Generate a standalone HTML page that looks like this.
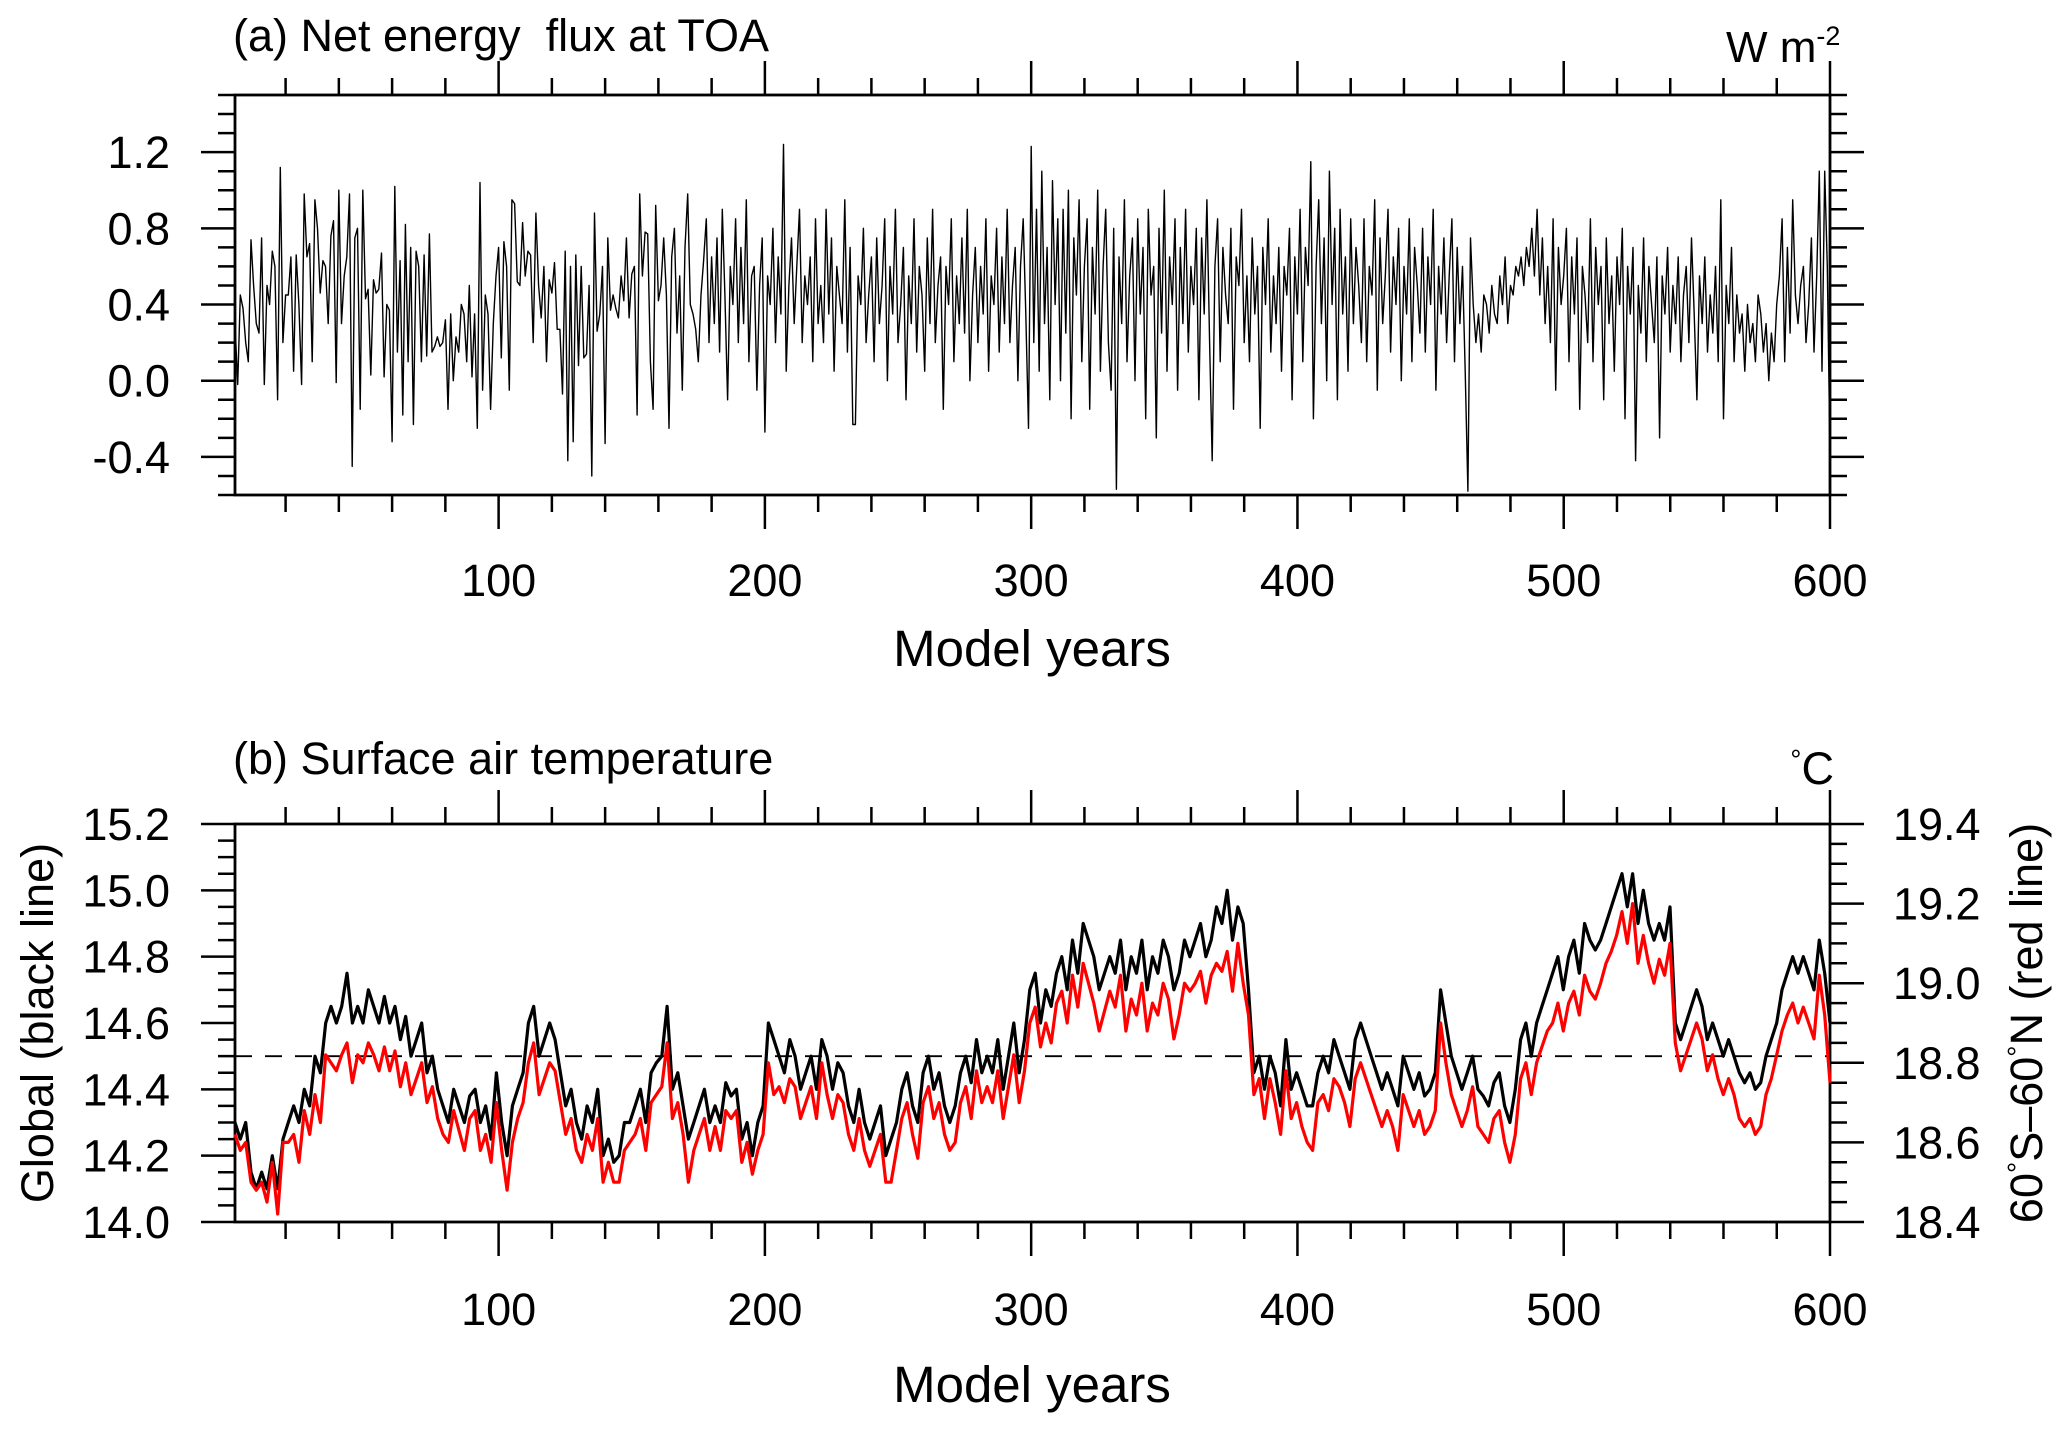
<!DOCTYPE html>
<html><head><meta charset="utf-8">
<style>
html,body{margin:0;padding:0;background:#fff;}
svg{display:block;font-family:"Liberation Sans",Arial,sans-serif;}
</style></head>
<body>
<svg id="chart" width="2067" height="1430" viewBox="0 0 2067 1430" xmlns="http://www.w3.org/2000/svg">
<text x="233" y="51" font-size="45" xml:space="preserve">(a) Net energy  flux at TOA</text>
<text x="1726" y="62" font-size="44">W m<tspan font-size="27" dy="-17">-2</tspan></text>
<text x="1032" y="666" font-size="51" text-anchor="middle">Model years</text>
<text x="233" y="774" font-size="45">(b) Surface air temperature</text>
<text x="1834" y="784" font-size="45" text-anchor="end"><tspan font-size="28" dy="-15">°</tspan><tspan dy="15">C</tspan></text>
<text x="1032" y="1402" font-size="51" text-anchor="middle">Model years</text>
<text transform="translate(53,1023) rotate(-90)" font-size="45" text-anchor="middle">Global (black line)</text>
<text transform="translate(2042,1023) rotate(-90)" font-size="45" text-anchor="middle">60<tspan font-size="28" dy="-15">°</tspan><tspan dy="15">S–60</tspan><tspan font-size="28" dy="-15">°</tspan><tspan dy="15">N (red line)</tspan></text>
<g id="layer"></g>
</svg>
<script>
// ---- Panel (a) data: net TOA flux, annual, years 1..600 ----
const fluxValues = [
.3,-.02,.45,.38,.2,.1,.74,.5,.3,.25,.75,-.02,.5,.4,.68,.6,-.1,1.12,.2,.45,
.45,.65,.05,.66,.4,-.02,.98,.65,.72,.1,.95,.8,.46,.63,.6,.3,.76,.84,-.01,1.0,
.3,.55,.65,.98,-.45,.75,.8,-.15,1.0,.43,.48,.03,.53,.46,.48,.67,.02,.4,.37,-.32,
1.02,.15,.63,-.18,.82,.1,.7,-.23,.68,.6,.1,.66,.13,.77,.15,.18,.23,.18,.2,.32,
-.15,.35,0,.23,.15,.4,.35,.1,.5,.02,.35,-.25,1.04,-.05,.45,.35,-.15,.3,.55,.7,
.12,.73,.6,-.05,.95,.93,.52,.5,.83,.55,.68,.66,.2,.88,.5,.33,.6,.1,.53,.46,
.62,.27,.27,-.07,.68,-.42,.6,-.32,.66,.08,.6,.12,.14,.5,-.5,.88,.26,.35,.6,-.33,
.75,.37,.45,.38,.33,.55,.42,.75,.33,.56,.6,-.18,.98,.55,.78,.77,.1,-.15,.92,.42,
.5,.75,.45,-.25,.65,.8,.25,.55,-.05,.7,.98,.4,.35,.27,.1,.45,.63,.85,.2,.65,
.3,.75,.15,.9,.45,-.1,.6,.4,.85,.2,.7,.3,.95,.1,.55,.6,-.05,.5,.75,-.27,
.55,.4,.8,.2,.65,.35,1.24,.05,.5,.75,.3,.6,.9,.2,.55,.4,.65,.1,.85,.3,
.5,.2,.9,.35,.75,.05,.6,.45,.3,.95,.15,.7,-.23,-.23,.55,.4,.8,.2,.45,.65,
.1,.75,.3,.5,.85,0,.6,.35,.9,.2,.4,.7,-.1,.55,.3,.85,.15,.6,.45,.05,
.75,.3,.9,.2,.5,.65,-.15,.6,.4,.85,.1,.55,.3,.75,.25,.9,0,.45,.7,.2,
.6,.35,.85,.05,.55,.4,.8,.15,.65,.3,.9,.2,.5,.7,0,.6,.85,.35,-.25,1.23,
.2,.9,.05,1.1,.3,.7,-.1,1.05,.4,.85,0,.9,.25,1.0,-.2,.75,.45,.95,.1,.6,
.85,-.15,.7,.35,1.0,.05,.6,.9,.2,-.05,.8,-.57,.65,.3,.95,.1,.55,.75,0,.85,
.35,.7,-.2,.9,.45,.6,-.3,.8,.25,1.0,.05,.65,.4,.85,-.05,.7,.3,.9,.15,.6,
.4,.8,-.1,.75,.35,.95,.2,-.42,.6,.85,.1,.7,.45,.3,.8,-.15,.65,.5,.9,.2,
.55,.1,.75,.35,.6,-.25,.7,.4,.85,.15,.55,.3,.7,.05,.6,.45,.8,-.1,.65,.35,
.9,.1,.7,.5,1.15,-.2,.6,.95,.3,.75,0,1.1,.4,.8,-.1,.9,.35,.65,.05,.85,
.3,.7,.5,.2,.85,.1,.6,.45,.95,-.05,.75,.3,.55,.9,.15,.65,.4,.8,0,.6,
.35,.85,.1,.7,.5,.25,.8,.15,.65,.4,.9,-.05,.6,.35,.75,.2,.55,.85,.1,.7,
.3,.6,.05,-.58,.75,.4,.2,.35,.15,.45,.4,.25,.5,.35,.3,.55,.4,.65,.3,.5,
.45,.6,.55,.65,.5,.7,.6,.8,.55,.9,.45,.75,.3,.6,.2,.85,-.05,.7,.4,.55,
.8,.1,.65,.35,.75,-.15,.6,.45,.2,.85,.1,.7,.4,.6,-.1,.75,.3,.55,.05,.65,
.4,.8,-.2,.6,.35,.7,-.42,.5,.25,.75,.1,.6,.4,.2,.65,-.3,.55,.35,.7,.15,
.5,.3,.65,.1,.45,.6,.2,.75,.35,-.1,.55,.3,.65,.15,.45,.25,.6,.1,.95,-.2,
.5,.3,.7,.1,.45,.25,.35,.05,.4,.2,.3,.1,.45,.35,.15,.3,0,.25,.1,.4,
.55,.85,.1,.7,.25,.95,.45,.3,.5,.6,.2,.4,.75,.15,.55,1.1,.05,1.1,.6,-.4
];
// ---- Panel (b) data: 2-yearly samples, years 1..600 ----
const globalTemp = [
14.3,14.25,14.3,14.15,14.1, 14.15,14.1,14.2,14.1,14.25, 14.3,14.35,14.3,14.4,14.35, 14.5,14.45,14.6,14.65,14.6,
14.65,14.75,14.6,14.65,14.6, 14.7,14.65,14.6,14.68,14.6, 14.65,14.55,14.62,14.5,14.55, 14.6,14.45,14.5,14.4,14.35,
14.3,14.4,14.35,14.3,14.38, 14.4,14.3,14.35,14.25,14.45, 14.3,14.2,14.35,14.4,14.45, 14.6,14.65,14.5,14.55,14.6,
14.55,14.45,14.35,14.4,14.3, 14.25,14.35,14.3,14.4,14.2, 14.25,14.18,14.2,14.3,14.3, 14.35,14.4,14.3,14.45,14.48,
14.5,14.65,14.4,14.45,14.35, 14.25,14.3,14.35,14.4,14.3, 14.35,14.3,14.42,14.38,14.4, 14.25,14.3,14.2,14.3,14.35,
14.6,14.55,14.5,14.45,14.55, 14.5,14.4,14.45,14.5,14.4, 14.55,14.5,14.4,14.48,14.45, 14.35,14.3,14.4,14.3,14.25,
14.3,14.35,14.2,14.25,14.3, 14.4,14.45,14.35,14.3,14.45, 14.5,14.4,14.45,14.35,14.3, 14.35,14.45,14.5,14.42,14.55,
14.45,14.5,14.45,14.55,14.4, 14.5,14.6,14.45,14.55,14.7, 14.75,14.6,14.7,14.65,14.75, 14.8,14.7,14.85,14.75,14.9,
14.85,14.8,14.7,14.75,14.8, 14.75,14.85,14.7,14.8,14.75, 14.85,14.7,14.8,14.75,14.85, 14.8,14.7,14.75,14.85,14.8,
14.85,14.9,14.8,14.85,14.95, 14.9,15.0,14.85,14.95,14.9, 14.7,14.45,14.5,14.4,14.5, 14.45,14.35,14.55,14.4,14.45,
14.4,14.35,14.35,14.45,14.5, 14.45,14.55,14.5,14.45,14.4, 14.55,14.6,14.55,14.5,14.45, 14.4,14.45,14.4,14.35,14.5,
14.45,14.4,14.45,14.38,14.4, 14.45,14.7,14.6,14.5,14.45, 14.4,14.45,14.5,14.4,14.38, 14.35,14.42,14.45,14.35,14.3,
14.4,14.55,14.6,14.5,14.6, 14.65,14.7,14.75,14.8,14.7, 14.8,14.85,14.75,14.9,14.85, 14.82,14.85,14.9,14.95,15.0,
15.05,14.95,15.05,14.9,15.0, 14.9,14.85,14.9,14.85,14.95, 14.6,14.55,14.6,14.65,14.7, 14.65,14.55,14.6,14.55,14.5,
14.55,14.5,14.45,14.42,14.45, 14.4,14.42,14.5,14.55,14.6, 14.7,14.75,14.8,14.75,14.8, 14.75,14.7,14.85,14.75,14.6
];
const tropicsTemp = [
18.62,18.58,18.6,18.5,18.48, 18.5,18.45,18.55,18.42,18.6, 18.6,18.62,18.55,18.68,18.62, 18.72,18.65,18.82,18.8,18.78,
18.82,18.85,18.75,18.82,18.8, 18.85,18.82,18.78,18.84,18.78, 18.83,18.74,18.8,18.72,18.76, 18.8,18.7,18.74,18.66,18.62,
18.6,18.68,18.63,18.58,18.66, 18.68,18.58,18.62,18.55,18.7, 18.58,18.48,18.6,18.66,18.7, 18.8,18.85,18.72,18.76,18.8,
18.78,18.7,18.62,18.66,18.58, 18.55,18.62,18.58,18.66,18.5, 18.55,18.5,18.5,18.58,18.6, 18.62,18.66,18.58,18.7,18.72,
18.74,18.85,18.66,18.7,18.62, 18.5,18.58,18.62,18.66,18.58, 18.64,18.58,18.68,18.66,18.68, 18.55,18.6,18.52,18.58,18.62,
18.8,18.72,18.74,18.7,18.76, 18.74,18.66,18.7,18.74,18.66, 18.8,18.72,18.66,18.72,18.7, 18.62,18.58,18.66,18.58,18.54,
18.58,18.62,18.5,18.5,18.58, 18.66,18.7,18.62,18.56,18.7, 18.74,18.66,18.7,18.62,18.58, 18.6,18.7,18.74,18.66,18.78,
18.7,18.74,18.7,18.78,18.66, 18.74,18.82,18.7,18.78,18.9, 18.94,18.84,18.9,18.85,18.95, 18.98,18.9,19.02,18.94,19.05,
19.0,18.95,18.88,18.93,18.98, 18.94,19.02,18.88,18.96,18.92, 19.0,18.88,18.95,18.92,19.0, 18.96,18.86,18.92,19.0,18.98,
19.0,19.03,18.95,19.02,19.05, 19.03,19.08,18.98,19.1,19.0, 18.92,18.72,18.76,18.66,18.76, 18.7,18.62,18.78,18.66,18.7,
18.64,18.6,18.58,18.7,18.72, 18.68,18.76,18.74,18.7,18.64, 18.76,18.8,18.76,18.72,18.68, 18.64,18.68,18.64,18.58,18.72,
18.68,18.64,18.68,18.62,18.64, 18.68,18.9,18.8,18.72,18.68, 18.64,18.68,18.74,18.64,18.62, 18.6,18.66,18.68,18.6,18.55,
18.62,18.76,18.8,18.72,18.8, 18.84,18.88,18.9,18.95,18.88, 18.95,18.98,18.92,19.02,18.98, 18.96,19.0,19.05,19.08,19.12,
19.18,19.1,19.2,19.05,19.12, 19.05,19.0,19.06,19.02,19.1, 18.85,18.78,18.82,18.86,18.9, 18.86,18.78,18.82,18.76,18.72,
18.76,18.72,18.66,18.64,18.66, 18.62,18.64,18.72,18.76,18.82, 18.88,18.92,18.95,18.9,18.94, 18.9,18.86,19.02,18.92,18.75
];
const xTickLabels = ["100","200","300","400","500","600"];
const aTickLabels = ["-0.4","0.0","0.4","0.8","1.2"];
const bLeftTickLabels = ["14.0","14.2","14.4","14.6","14.8","15.0","15.2"];
const bRightTickLabels = ["18.4","18.6","18.8","19.0","19.2","19.4"];
const referenceLevel = 14.5;

const NS = "http://www.w3.org/2000/svg";
const layer = document.getElementById("layer");
const X0 = 235, X1 = 1830;
function xScale(yr){ return X0 + (yr - 1) * (X1 - X0) / 599; }
function mk(tag, attrs, parent){
  const e = document.createElementNS(NS, tag);
  for (const k in attrs) e.setAttribute(k, attrs[k]);
  (parent || layer).appendChild(e);
  return e;
}
function makeY(lo, hi, top, bot){ return v => bot - (v - lo) * (bot - top) / (hi - lo); }

const A = {top:95, bot:495, lo:-0.6, hi:1.5};
const B = {top:824, bot:1222, lo:14.0, hi:15.2, rlo:18.4, rhi:19.4};
const yA = makeY(A.lo, A.hi, A.top, A.bot);
const yB = makeY(B.lo, B.hi, B.top, B.bot);
const yBR = makeY(B.rlo, B.rhi, B.top, B.bot);
const TICK_FONT = 45;

function xAxes(top, bot, labelY, prefix){
  for (let yr = 20; yr <= 600; yr += 20){
    const major = yr % 100 === 0;
    const len = major ? 34 : 17;
    const x = xScale(yr);
    const t1 = mk("line", {x1:x, x2:x, y1:top, y2:top-len, stroke:"#000","stroke-width":2.5});
    
    
    const t2 = mk("line", {x1:x, x2:x, y1:bot, y2:bot+len, stroke:"#000","stroke-width":2.5});
    
    
  }
  xTickLabels.forEach((lab, i) => {
    const yr = (i + 1) * 100;
    const t = mk("text", {x:xScale(yr), y:labelY, "font-size":TICK_FONT, "text-anchor":"middle"});
    t.textContent = lab;
    
    
  });
}
function yTicks(lo, hi, step, majorEvery, yf, side, prefix){
  const n = Math.round((hi - lo) / step);
  for (let i = 0; i <= n; i++){
    const v = lo + i * step;
    const r = (v - majorEvery.base) / majorEvery.step;
    const major = Math.abs(r - Math.round(r)) < 1e-6;
    const len = major ? 34 : 17;
    const y = yf(v);
    const xs = side === "left" ? X0 : X1;
    const xe = side === "left" ? X0 - len : X1 + len;
    const t = mk("line", {x1:xs, x2:xe, y1:y, y2:y, stroke:"#000","stroke-width":2.5});
    
    
  }
}
function frame(top, bot, name){
  const r = mk("rect", {x:X0, y:top, width:X1-X0, height:bot-top, fill:"none", stroke:"#000","stroke-width":2.8});
  
  
}
function series(vals, xf, yf, color, width, name){
  let d = "";
  vals.forEach((v, i) => { d += (i ? "L" : "M") + xf(i).toFixed(1) + "," + yf(v).toFixed(1); });
  const p = mk("path", {d:d, fill:"none", stroke:color, "stroke-width":width, "stroke-linejoin":"round"});
  
  
}

// ---- Panel (a) ----
frame(A.top, A.bot, "panel-a-frame");
xAxes(A.top, A.bot, 596, "panel-a");
yTicks(A.lo, A.hi, 0.1, {base:0, step:0.4}, yA, "left", "panel-a-left");
yTicks(A.lo, A.hi, 0.1, {base:0, step:0.4}, yA, "right", "panel-a-right");
aTickLabels.forEach(lab => {
  const v = parseFloat(lab);
  const t = mk("text", {x:170, y:yA(v)+16, "font-size":TICK_FONT, "text-anchor":"end"});
  t.textContent = lab;
  
  
});
series(fluxValues, i => xScale(1 + i * 599 / (fluxValues.length - 1)), yA, "#000", 1.4, "toa-flux-line");

// ---- Panel (b) ----
frame(B.top, B.bot, "panel-b-frame");
xAxes(B.top, B.bot, 1325, "panel-b");
yTicks(B.lo, B.hi, 0.05, {base:14.0, step:0.2}, yB, "left", "panel-b-left");
yTicks(B.rlo, B.rhi, 0.05, {base:18.4, step:0.2}, yBR, "right", "panel-b-right");
bLeftTickLabels.forEach(lab => {
  const t = mk("text", {x:170, y:yB(parseFloat(lab))+16, "font-size":TICK_FONT, "text-anchor":"end"});
  t.textContent = lab;
  
  
});
bRightTickLabels.forEach(lab => {
  const t = mk("text", {x:1893, y:yBR(parseFloat(lab))+16, "font-size":TICK_FONT, "text-anchor":"start"});
  t.textContent = lab;
  
  
});
const ref = mk("line", {x1:X0, x2:X1, y1:yB(referenceLevel), y2:yB(referenceLevel), stroke:"#000", "stroke-width":1.8, "stroke-dasharray":"17,13"});


series(globalTemp, i => xScale(1 + i * 599 / (globalTemp.length - 1)), yB, "#000", 3.2, "global-temperature-line");
series(tropicsTemp, i => xScale(1 + i * 599 / (tropicsTemp.length - 1)), yBR, "#ff0000", 3.2, "tropics-temperature-line");
</script>
</body></html>
